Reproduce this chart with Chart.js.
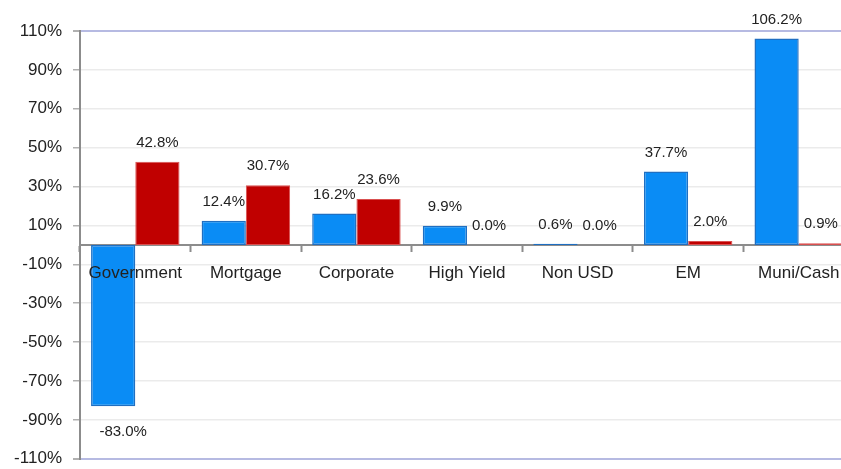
<!DOCTYPE html>
<html>
<head>
<meta charset="utf-8">
<script src="https://cdn.jsdelivr.net/npm/chart.js@4/dist/chart.umd.min.js"></script>
<style>
  html, body { margin: 0; padding: 0; background: #fff; overflow: hidden; }
  #wrap { width: 854px; height: 480px; }
</style>
</head>
<body>
<div id="wrap"><canvas id="allocChart"></canvas></div>
<script>
const categories = ['Government', 'Mortgage', 'Corporate', 'High Yield', 'Non USD', 'EM', 'Muni/Cash']
const blueValues = [-83.0, 12.4, 16.2, 9.9, 0.6, 37.7, 106.2]
const redValues = [42.8, 30.7, 23.6, 0.0, 0.0, 2.0, 0.9]

const FONT = "'Liberation Sans', Arial, sans-serif"
const FRAME = '#b6bae2'

// value labels above (or below) each bar
const valueLabels = {
  id: 'valueLabels',
  afterDatasetsDraw(chart) {
    const ctx = chart.ctx
    ctx.save()
    ctx.font = '15px ' + FONT
    ctx.fillStyle = '#222'
    ctx.textAlign = 'center'
    ctx.textBaseline = 'middle'
    chart.data.datasets.forEach((ds, i) => {
      chart.getDatasetMeta(i).data.forEach((bar, j) => {
        const v = ds.data[j]
        const text = v.toFixed(1) + '%'
        if (v < 0) {
          ctx.fillText(text, bar.x + 10, bar.y + 26)
        } else {
          ctx.fillText(text, bar.x, bar.y - 19)
        }
      })
    })
    ctx.restore()
  }
}

new Chart(document.getElementById('allocChart'), {
  type: 'bar',
  data: {
    labels: categories,
    datasets: [
      {
        data: blueValues,
        backgroundColor: '#0a8cf5',
        borderColor: '#1f6fc2',
        borderWidth: 1.5,
        borderSkipped: false
      },
      {
        data: redValues,
        backgroundColor: '#c00000',
        borderColor: '#d95050',
        borderWidth: 1,
        borderSkipped: false
      }
    ]
  },
  options: {
    responsive: true,
    maintainAspectRatio: false,
    animation: false,
    layout: { padding: { top: 31, bottom: 0, left: 0, right: 0 } },
    datasets: {
      bar: { categoryPercentage: 0.8, barPercentage: 1 }
    },
    plugins: {
      legend: { display: false },
      tooltip: { enabled: false }
    },
    scales: {
      x: {
        position: { y: 0 },
        offset: true,
        border: { color: '#8c8c8c', width: 2 },
        grid: {
          offset: true,
          drawOnChartArea: false,
          tickLength: 6,
          tickColor: '#8c8c8c',
          tickWidth: 2
        },
        ticks: {
          // category names sit on top of the bars
          z: 1,
          font: { family: FONT, size: 17 },
          color: '#222',
          padding: 12,
          maxRotation: 0
        }
      },
      y: {
        min: -110,
        max: 110,
        afterFit(scale) { scale.width = 80 },
        border: { color: '#8c8c8c', width: 2 },
        grid: {
          color: ctx => (ctx.tick && Math.abs(ctx.tick.value) === 110) ? FRAME : '#ebebeb',
          lineWidth: ctx => (ctx.tick && Math.abs(ctx.tick.value) === 110) ? 2 : 1.5,
          tickLength: 7,
          tickColor: '#b0b0b0'
        },
        ticks: {
          stepSize: 20,
          padding: 11,
          font: { family: FONT, size: 17 },
          color: '#222',
          callback: v => v + '%'
        }
      }
    }
  },
  plugins: [valueLabels]
})
</script>
</body>
</html>
